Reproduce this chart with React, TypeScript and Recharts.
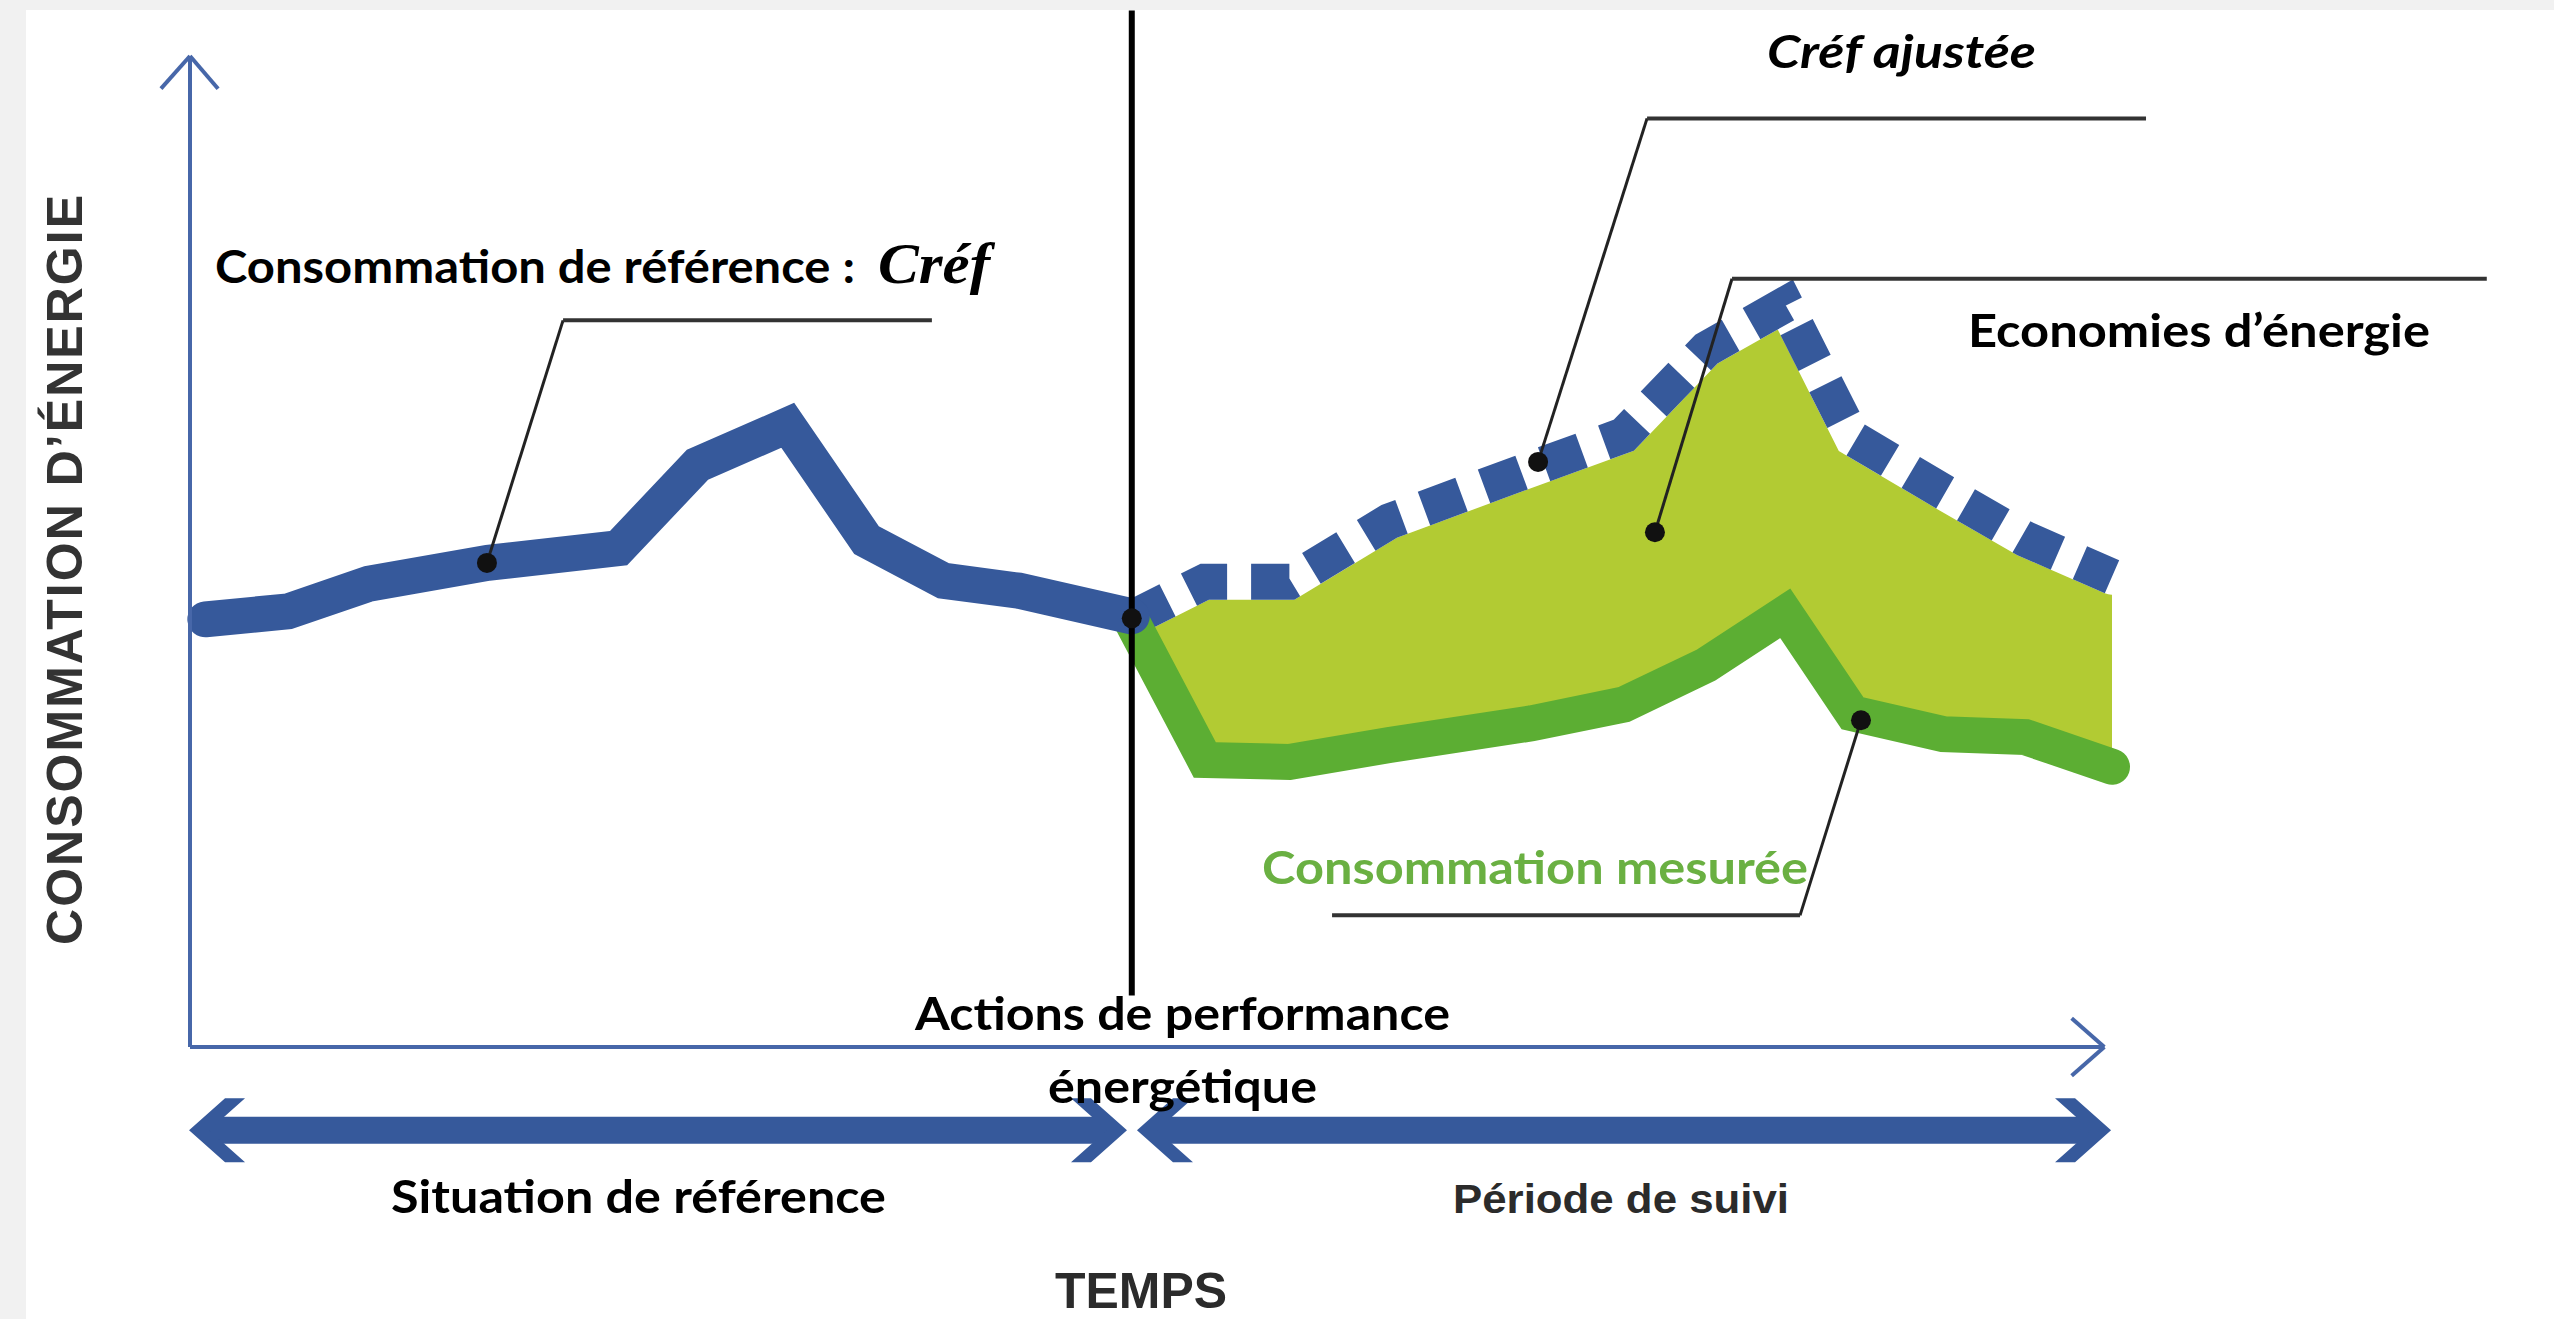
import React from 'react';
import { ComposedChart, Line, Area, XAxis, YAxis, ReferenceLine, ReferenceDot } from 'recharts';

const W = 2554;
const H = 1319;
const MARGIN = { top: 57, right: 442, bottom: 272, left: 190 };

// Période de référence : consommation de référence (Créf)
const baselineTime = [0.8, 5.1, 9.3, 15.5, 22.3, 26.4, 31.1, 35.2, 39.2, 43.1, 49.0];
const baselineCref = [43.2, 44.0, 46.8, 48.9, 50.4, 58.8, 62.8, 51.2, 47.1, 46.1, 43.5];

// Période de suivi : Créf ajustée et consommation mesurée
const followTime = [49.0, 52.8, 57.2, 62.4, 69.8, 74.6, 78.9, 83.0, 86.5, 91.2, 95.5, 100.0];
const adjustedCref = [43.3, 47.0, 47.0, 53.1, 58.4, 61.8, 70.5, 75.0, 61.5, 56.1, 51.3, 47.5];
const measuredCons = [43.0, 29.0, 28.8, 30.5, 32.7, 34.6, 38.6, 43.8, 33.7, 31.6, 31.3, 28.3];

// Build the chart table
type Row = { t: number; cref?: number; adj?: number; mes?: number; band?: [number, number] };
const rows: Row[] = [];
baselineTime.forEach((t, i) => rows.push({ t, cref: baselineCref[i] }));
followTime.forEach((t, i) => {
  const r: Row = { t, adj: adjustedCref[i], mes: measuredCons[i], band: [measuredCons[i], adjustedCref[i]] };
  const last = rows[rows.length - 1];
  if (last && last.t === t) Object.assign(last, r);
  else rows.push(r);
});

const BLUE = '#36599b';
const AXIS_BLUE = '#4767a9';
const LIGHT_GREEN = '#b2cb33';
const DARK_GREEN = '#5cae33';
const TEXT_GREEN = '#6ab042';
const INK = '#111111';

const splitT = 49.0;
const arrowV = -8.4;

type P = { x: number; y: number };
const seg = (a: [number, number], b: [number, number]): [P, P] => [
  { x: a[0], y: a[1] },
  { x: b[0], y: b[1] },
];

// callouts: dot -> elbow -> end
const callouts: [number, number][][] = [
  [[15.45, 48.9], [19.41, 73.4], [38.6, 73.4]],
  [[70.14, 59.1], [75.81, 93.8], [101.77, 93.8]],
  [[76.22, 52.0], [80.23, 77.6], [119.5, 77.6]],
  [[86.94, 33.0], [83.77, 13.3], [59.42, 13.3]],
];

const headShape = (dir: number) => (props: any) => {
  const { cx, cy } = props;
  const d = `M${cx},${cy} L${cx - dir * 36},${cy - 32} L${cx - dir * 56},${cy - 32} L${cx - dir * 20},${cy} L${cx - dir * 56},${cy + 32} L${cx - dir * 36},${cy + 32} Z`;
  return <path d={d} fill={BLUE} />;
};

const dotShape = (props: any) => <circle cx={props.cx} cy={props.cy} r={10} fill={INK} />;

const calibri = "Lato, 'Open Sans', sans-serif";
const arial = "'Liberation Sans', Arial, sans-serif";

export default function App() {
  return (
    <div style={{ position: 'absolute', left: 0, top: 0, width: W, height: H, background: '#f1f1f1', overflow: 'hidden' }}>
      <div style={{ position: 'absolute', left: 26, top: 10, width: W - 26, height: H - 10, background: '#ffffff' }} />
      <div style={{ position: 'absolute', left: 0, top: 0 }}>
        <ComposedChart width={W} height={H} data={rows} margin={MARGIN}>
          <XAxis type="number" dataKey="t" domain={[0, 100]} hide />
          <YAxis type="number" domain={[0, 100]} hide />
          <Area
            type="linear"
            dataKey="band"
            stroke="none"
            fill={LIGHT_GREEN}
            fillOpacity={1}
            isAnimationActive={false}
            activeDot={false}
            dot={false}
          />
          <Line type="linear" dataKey="adj" stroke="#ffffff" strokeWidth={36} strokeLinecap="round" strokeLinejoin="miter" dot={false} activeDot={false} isAnimationActive={false} />
          <Line type="linear" dataKey="adj" stroke={BLUE} strokeWidth={36} strokeDasharray="40 24" strokeLinecap="butt" strokeLinejoin="miter" dot={false} activeDot={false} isAnimationActive={false} />
          <Line type="linear" dataKey="mes" stroke={DARK_GREEN} strokeWidth={36} strokeLinecap="round" strokeLinejoin="miter" dot={false} activeDot={false} isAnimationActive={false} />
          <Line type="linear" dataKey="cref" stroke={BLUE} strokeWidth={36} strokeLinecap="round" strokeLinejoin="miter" dot={false} activeDot={false} isAnimationActive={false} />

          {/* axes */}
          <ReferenceLine segment={seg([0, 0], [0, 100.1])} stroke={AXIS_BLUE} strokeWidth={4} ifOverflow="visible" />
          <ReferenceLine segment={seg([-1.51, 96.8], [0, 100.1])} stroke={AXIS_BLUE} strokeWidth={4} ifOverflow="visible" />
          <ReferenceLine segment={seg([1.46, 96.8], [0, 100.1])} stroke={AXIS_BLUE} strokeWidth={4} ifOverflow="visible" />
          <ReferenceLine segment={seg([0, 0], [99.6, 0])} stroke={AXIS_BLUE} strokeWidth={4} ifOverflow="visible" />
          <ReferenceLine segment={seg([97.9, 2.9], [99.6, 0])} stroke={AXIS_BLUE} strokeWidth={4} ifOverflow="visible" />
          <ReferenceLine segment={seg([97.9, -2.9], [99.6, 0])} stroke={AXIS_BLUE} strokeWidth={4} ifOverflow="visible" />

          {/* action line */}
          <ReferenceLine segment={seg([splitT, 5.2], [splitT, 104.7])} stroke="#000000" strokeWidth={6} ifOverflow="visible" />

          {/* period arrows */}
          <ReferenceLine segment={seg([0.9, arrowV], [47.8, arrowV])} stroke={BLUE} strokeWidth={27} ifOverflow="visible" />
          <ReferenceLine segment={seg([50.2, arrowV], [99.0, arrowV])} stroke={BLUE} strokeWidth={27} ifOverflow="visible" />
          <ReferenceDot x={-0.05} y={arrowV} ifOverflow="visible" shape={headShape(-1)} />
          <ReferenceDot x={48.75} y={arrowV} ifOverflow="visible" shape={headShape(1)} />
          <ReferenceDot x={49.27} y={arrowV} ifOverflow="visible" shape={headShape(-1)} />
          <ReferenceDot x={99.95} y={arrowV} ifOverflow="visible" shape={headShape(1)} />

          {/* callouts */}
          {callouts.map((c, i) => (
            <ReferenceLine key={`ca${i}`} segment={seg(c[0], c[1])} stroke="#222" strokeWidth={3} ifOverflow="visible" />
          ))}
          {callouts.map((c, i) => (
            <ReferenceLine key={`cb${i}`} segment={seg(c[1], c[2])} stroke="#333" strokeWidth={4} ifOverflow="visible" />
          ))}
          {callouts.map((c, i) => (
            <ReferenceDot key={`cd${i}`} x={c[0][0]} y={c[0][1]} ifOverflow="visible" shape={dotShape} />
          ))}
          <ReferenceDot x={splitT} y={43.3} ifOverflow="visible" shape={dotShape} />
        </ComposedChart>
      </div>
      <svg width={W} height={H} style={{ position: 'absolute', left: 0, top: 0, pointerEvents: 'none' }}>
        <text
          x={82}
          y={570}
          transform="rotate(-90 82 570)"
          textAnchor="middle"
          fontFamily={arial}
          fontWeight={700}
          fontSize={50}
          fill="#333333"
          textLength={750}
          lengthAdjust="spacing"
        >
          CONSOMMATION D’ÉNERGIE
        </text>
        <text x={215} y={283} fontFamily={calibri} fontWeight={700} fontSize={46} fill="#000" textLength={640} lengthAdjust="spacingAndGlyphs">
          Consommation de référence :
        </text>
        <text x={878} y={283} fontFamily="'Liberation Serif', 'Times New Roman', serif" fontStyle="italic" fontWeight={700} fontSize={58} fill="#000" textLength={112} lengthAdjust="spacingAndGlyphs">
          Créf
        </text>
        <text x={1767} y={68} fontFamily={calibri} fontWeight={700} fontStyle="italic" fontSize={46} fill="#000" textLength={269} lengthAdjust="spacingAndGlyphs">
          Créf ajustée
        </text>
        <text x={1968} y={347} fontFamily={calibri} fontWeight={700} fontSize={46} fill="#000" textLength={462} lengthAdjust="spacingAndGlyphs">
          Economies d’énergie
        </text>
        <text x={1262} y={884} fontFamily={calibri} fontWeight={700} fontSize={46} fill={TEXT_GREEN} textLength={546} lengthAdjust="spacingAndGlyphs">
          Consommation mesurée
        </text>
        <text x={915} y={1030} fontFamily={calibri} fontWeight={700} fontSize={46} fill="#000" textLength={535} lengthAdjust="spacingAndGlyphs">
          Actions de performance
        </text>
        <text x={1048} y={1103} fontFamily={calibri} fontWeight={700} fontSize={46} fill="#000" textLength={269} lengthAdjust="spacingAndGlyphs">
          énergétique
        </text>
        <text x={391} y={1213} fontFamily={calibri} fontWeight={700} fontSize={46} fill="#000" textLength={495} lengthAdjust="spacingAndGlyphs">
          Situation de référence
        </text>
        <text x={1453} y={1213} fontFamily={arial} fontWeight={700} fontSize={40} fill="#2b2b2b" textLength={336} lengthAdjust="spacingAndGlyphs">
          Période de suivi
        </text>
        <text x={1055} y={1308} fontFamily={arial} fontWeight={700} fontSize={50} fill="#2b2b2b" textLength={172} lengthAdjust="spacingAndGlyphs">
          TEMPS
        </text>
      </svg>
    </div>
  );
}
